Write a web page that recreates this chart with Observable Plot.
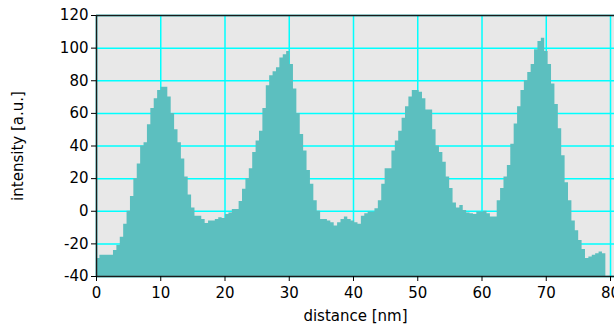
<!DOCTYPE html>
<html>
<head>
<meta charset="utf-8">
<script src="https://cdn.jsdelivr.net/npm/d3@7"></script>
<script src="https://cdn.jsdelivr.net/npm/@observablehq/plot@0.6"></script>
<style>
  html, body { margin: 0; padding: 0; background: #ffffff; overflow: hidden; }
  #chart { width: 614px; height: 331px; }
</style>
</head>
<body>
<div id="chart"></div>
<script>
// Line profile: intensity [a.u.] sampled along distance [nm]
const binWidth = 0.5285; // nm per sample
const intensity = [
  -29, -27, -27, -27, -27, -24, -21, -16, -8, 0,
  9, 20, 29, 40, 42, 53, 63, 69, 74, 76,
  76, 70, 60, 50, 42, 32, 21, 10, 2, -3,
  -3, -5, -7.5, -6, -6, -5, -4, -4.5, -2, -1,
  1, 1, 6, 13.5, 20, 26, 36, 43, 49, 63,
  77, 83, 85.5, 88, 94, 96, 98, 90, 75, 60,
  47, 37, 25, 16.5, 6.5, 0, -5, -5, -6, -7,
  -9, -7, -5, -3.5, -5, -6, -7, -8, -3, -1.5,
  -0.5, -0.5, 1.5, 6.5, 16.5, 26, 26, 37, 43, 49,
  57, 64, 70, 74, 74, 73, 69, 62, 62, 50,
  40, 36, 30, 21, 14, 5, 2, 3.5, 0.5, -1,
  -1.5, -2, -0.5, -0.5, 0, -1.5, -3.5, -3.5, 6.5, 14,
  21, 28, 41, 53.5, 64, 74, 80, 85, 90, 99,
  104, 106, 98, 90, 78, 65.5, 50.5, 34, 17.5, 6.5,
  -6, -12, -18, -23.5, -29, -28, -27, -26, -25, -26
];
const xTicks = [0, 10, 20, 30, 40, 50, 60, 70, 80];
const yTicks = [-40, -20, 0, 20, 40, 60, 80, 100, 120];
const xLabel = "distance [nm]";
const yLabel = "intensity [a.u.]";

const profile = intensity.map((v, i) => ({distance: i * binWidth, value: v}));
profile.push({distance: intensity.length * binWidth, value: intensity[intensity.length - 1]});

const chart = Plot.plot({
  width: 614,
  height: 331,
  marginLeft: 96,
  marginRight: 0,
  marginTop: 15,
  marginBottom: 55,
  style: {fontFamily: "'DejaVu Sans', sans-serif", fontSize: "15px", color: "#000", background: "#fff", overflow: "hidden"},
  x: {domain: [0, 80.62], label: null},
  y: {domain: [-40, 120], label: null},
  marks: [
    Plot.frame({fill: "#e8e8e8", stroke: null}),
    Plot.ruleX(xTicks, {stroke: "#00ffff", strokeWidth: 1.5}),
    Plot.ruleY(yTicks, {stroke: "#00ffff", strokeWidth: 1.5}),
    Plot.areaY(profile, {x: "distance", y1: -40, y2: "value", curve: "step-after", fill: "#5cbfbf"}),
    Plot.ruleY([120, -40], {stroke: "#1a1a1a", strokeWidth: 1.5}),
    Plot.ruleX([0], {stroke: "#1a1a1a", strokeWidth: 1.5}),
    Plot.axisX({ticks: xTicks, tickSize: 5, tickPadding: 6, tickFormat: d => String(d), label: null, fontSize: 15}),
    Plot.axisY({ticks: yTicks, tickSize: 5, tickPadding: 3, tickFormat: d => String(d), label: null, fontSize: 15}),
    Plot.text([xLabel], {frameAnchor: "bottom", dy: 44, text: d => d, fontSize: 15, fill: "#000", textAnchor: "middle"}),
    Plot.text([yLabel], {frameAnchor: "left", dx: -78, rotate: -90, text: d => d, fontSize: 15, fill: "#000", textAnchor: "middle"})
  ]
});
document.getElementById("chart").appendChild(chart);
</script>
</body>
</html>
